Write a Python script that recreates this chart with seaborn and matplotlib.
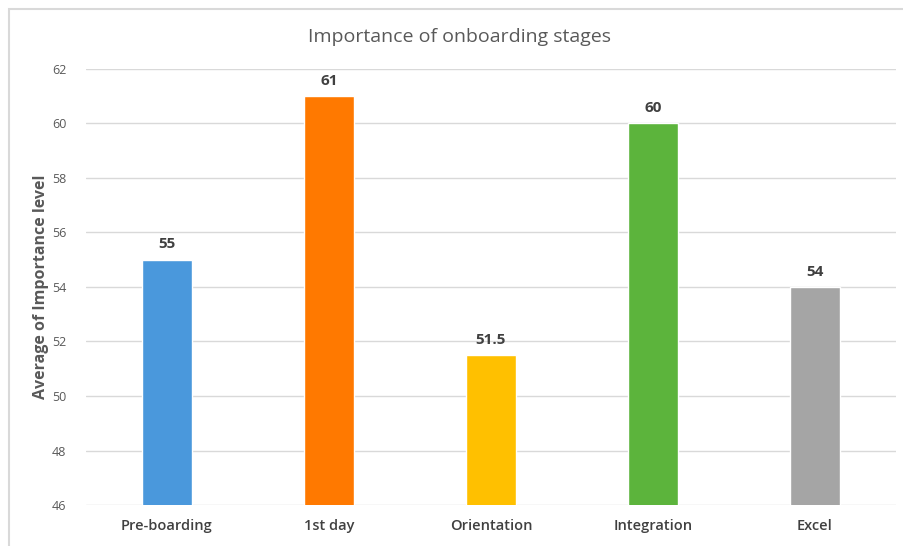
import matplotlib
matplotlib.use("Agg")
import matplotlib.pyplot as plt
from matplotlib.patches import Rectangle
import seaborn as sns
import pandas as pd

# Average importance rating per onboarding stage
stages = ["Pre-boarding", "1st day", "Orientation", "Integration", "Excel"]
values = [55, 61, 51.5, 60, 54]
colors = ["#4A98DC", "#FF7900", "#FFC000", "#5CB43C", "#A5A5A5"]
y_ticks = [46, 48, 50, 52, 54, 56, 58, 60, 62]

sns.set_theme(style="white")
plt.rcParams["font.family"] = ["Open Sans", "DejaVu Sans"]

df = pd.DataFrame({"stage": stages, "value": values})

fig = plt.figure(figsize=(9.04, 5.46), dpi=100)
ax = fig.add_axes([0.0951, 0.075, 0.8960, 0.799])

sns.barplot(data=df, x="stage", y="value", hue="stage", palette=colors,
            width=0.31, legend=False, ax=ax, saturation=1)

ax.set_ylim(46, 62)
ax.set_yticks(y_ticks)
ax.set_yticklabels([str(t) for t in y_ticks], color="#595959", fontsize=9)
ax.set_xlim(-0.5, len(stages) - 0.5)
ax.tick_params(axis="x", length=0, pad=10, labelsize=10.5, labelcolor="#404040")
ax.tick_params(axis="y", length=0, pad=14)
for lbl in ax.get_xticklabels():
    lbl.set_fontweight("semibold")
ax.set_xlabel("")
ax.set_ylabel("Average of Importance level", fontsize=11.5, fontweight="bold",
              color="#595959", labelpad=2)

ax.yaxis.grid(True, color="#D9D9D9", linewidth=1)
ax.set_axisbelow(True)
for s in ax.spines.values():
    s.set_visible(False)

for patch, v in zip(ax.patches, values):
    ax.annotate(f"{v:g}", (patch.get_x() + patch.get_width() / 2, v),
                xytext=(0, 6), textcoords="offset points", ha="center",
                va="bottom", fontsize=11, fontweight="bold", color="#404040")

fig.text(0.508, 0.932, "Importance of onboarding stages", ha="center",
         va="center", fontsize=14, color="#595959")

# Chart-area frame
fig.patches.append(Rectangle((8.5 / 904, -0.01), 1.0, 1 - 8.5 / 546 + 0.01,
                             transform=fig.transFigure, fill=False,
                             edgecolor="#D9D9D9", linewidth=1.5))

fig.savefig("out.png", dpi=100)
